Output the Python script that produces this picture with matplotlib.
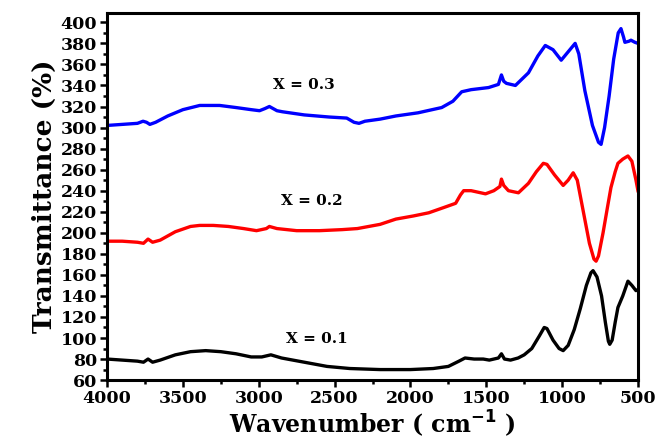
import numpy as np
import matplotlib
matplotlib.use("Agg")
import matplotlib.pyplot as plt
from matplotlib.ticker import MultipleLocator

# FTIR spectra (wavenumber in cm-1, transmittance offset)
wn_01 = [4000, 3900, 3800, 3760, 3730, 3700, 3650, 3550, 3450, 3350, 3250, 3150, 3050, 2980, 2920,
         2850, 2700, 2550, 2400, 2200, 2000, 1850, 1750, 1680, 1640, 1580, 1520, 1480, 1420, 1400,
         1380, 1340, 1290, 1250, 1200, 1150, 1118, 1100, 1060, 1020, 993, 960, 920, 880, 840, 810,
         796, 770, 740, 715, 695, 686, 670, 650, 632, 600, 566, 540, 513, 500]
t_01 = [80, 79, 78, 77, 80, 77, 79, 84, 87, 88, 87, 85, 82, 82, 84,
        81, 77, 73, 71, 70, 70, 71, 73, 78, 81, 80, 80, 79, 81, 85,
        80, 79, 81, 84, 90, 102, 110, 109, 98, 90, 88, 93, 108, 128, 150, 162,
        164, 158, 140, 115, 97, 94, 98, 115, 129, 140, 154, 150, 145, 146]

wn_02 = [4000, 3900, 3800, 3760, 3730, 3700, 3650, 3550, 3450, 3390, 3300, 3200, 3100, 3015, 2950,
         2930, 2880, 2750, 2600, 2450, 2350, 2200, 2096, 1980, 1879, 1780, 1702, 1670, 1649, 1600,
         1505, 1450, 1410, 1400, 1385, 1354, 1288, 1222, 1170, 1124, 1100, 1050, 993, 960, 927,
         900, 860, 820, 790, 776, 760, 730, 700, 678, 650, 632, 600, 566, 540, 513, 500]
t_02 = [192, 192, 191, 190, 194, 191, 193, 201, 206, 207, 207, 206, 204, 202, 204,
        206, 204, 202, 202, 203, 204, 208, 213, 216, 219, 224, 228, 236, 240, 240,
        237, 240, 244, 251, 245, 240, 238, 247, 258, 266, 265, 255, 245, 250, 257,
        250, 220, 190, 175, 173, 178, 200, 225, 243, 258, 266, 270, 273, 268, 250, 240]

wn_03 = [4000, 3900, 3800, 3763, 3740, 3718, 3680, 3600, 3500, 3389, 3258, 3150, 3050, 2995, 2960,
         2930, 2880, 2844, 2700, 2536, 2420, 2372, 2339, 2300, 2200, 2096, 1950, 1794, 1720, 1662,
         1600, 1485, 1420, 1400, 1385, 1367, 1308, 1222, 1160, 1111, 1060, 1006, 960, 914, 890,
         850, 800, 760, 743, 720, 690, 660, 630, 612, 595, 586, 560, 546, 520, 500]
t_03 = [302, 303, 304, 306, 305, 303, 305, 311, 317, 321, 321, 319, 317, 316, 318,
        320, 316, 315, 312, 310, 309, 305, 304, 306, 308, 311, 314, 319, 325, 334,
        336, 338, 341, 350, 344, 342, 340, 352, 368, 378, 374, 364, 372, 380, 370,
        335, 302, 286, 284, 300, 330, 365, 390, 394, 386, 381, 382, 383, 381, 380]

series = [("X = 0.1", wn_01, t_01, "black"),
          ("X = 0.2", wn_02, t_02, "#ff0000"),
          ("X = 0.3", wn_03, t_03, "#0000ff")]
label_pos = {"X = 0.1": (2615, 99), "X = 0.2": (2647, 230), "X = 0.3": (2700, 340)}

serif = "DejaVu Serif"

fig = plt.figure(figsize=(6.57, 4.43), dpi=100)
ax = fig.add_axes([0.163, 0.142, 0.808, 0.829])

for name, wn, t, col in series:
    ax.plot(wn, t, color=col, lw=2.4, solid_joinstyle="round")
    ax.text(*label_pos[name], name, fontsize=11, fontweight="bold", family=serif,
            ha="center", va="center")

ax.set_xlim(4000, 500)
ax.set_ylim(60, 409)
ax.xaxis.set_major_locator(MultipleLocator(500))
ax.xaxis.set_minor_locator(MultipleLocator(250))
ax.yaxis.set_major_locator(MultipleLocator(20))
ax.yaxis.set_minor_locator(MultipleLocator(10))
ax.tick_params(which="both", direction="out", width=1.8, top=False, right=False)
ax.tick_params(which="major", length=5, labelsize=12.5, pad=2)
ax.tick_params(which="minor", length=3)
for lab in ax.get_xticklabels() + ax.get_yticklabels():
    lab.set_fontweight("bold")
    lab.set_family(serif)
for sp in ax.spines.values():
    sp.set_linewidth(2.2)

ax.set_xlabel("Wavenumber ( cm$^{\\mathbf{-1}}$ )", fontsize=17, fontweight="bold",
              family=serif, labelpad=1)
ax.set_ylabel("Transmittance (%)", fontsize=19, fontweight="bold", family=serif, labelpad=3)

fig.savefig("out.png", dpi=100)
